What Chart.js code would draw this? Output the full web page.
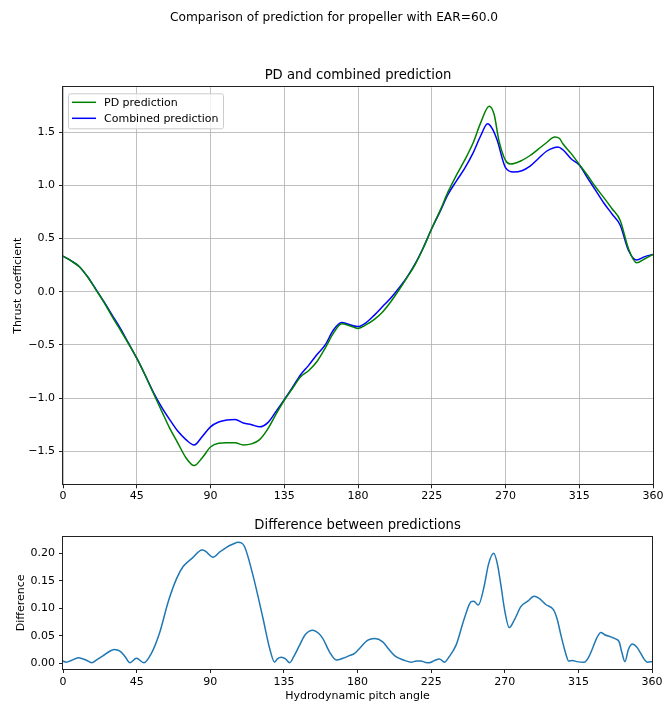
<!DOCTYPE html>
<html>
<head>
<meta charset="utf-8">
<script src="https://cdn.jsdelivr.net/npm/chart.js@4/dist/chart.umd.min.js"></script>
<style>
  html, body { margin: 0; padding: 0; background: #ffffff; }
  body { width: 665px; height: 704px; position: relative; overflow: hidden; }
  canvas { position: absolute; left: 0; }
  #thrust { top: 0; }
  #diff { top: 505px; }
</style>
</head>
<body>
<canvas id="thrust" width="665" height="505"></canvas>
<canvas id="diff" width="665" height="199"></canvas>
<script>
// Thrust coefficient predicted by the PD model, per hydrodynamic pitch angle (deg)
const pdAngles = [0,5,10,15,20,25,30,35,40,45,50,55,60,65,70,75,80,85,90,95,100,105,110,115,120,125,130,135,140,145,150,155,160,165,170,175,180,185,190,195,200,205,210,215,220,225,230,235,240,245,250,255,260,263,266,270,273,280,285,290,295,300,303,305,310,315,320,325,330,335,340,345,350,355,360];
const pdValues = [0.335,0.29,0.235,0.14,0.02,-0.10,-0.235,-0.36,-0.49,-0.625,-0.78,-0.95,-1.115,-1.28,-1.42,-1.56,-1.634,-1.56,-1.46,-1.425,-1.42,-1.42,-1.44,-1.43,-1.39,-1.29,-1.15,-1.02,-0.91,-0.80,-0.74,-0.656,-0.53,-0.39,-0.30,-0.32,-0.345,-0.31,-0.26,-0.19,-0.094,0.016,0.134,0.26,0.416,0.594,0.76,0.94,1.094,1.234,1.39,1.594,1.744,1.67,1.42,1.234,1.20,1.234,1.28,1.34,1.40,1.453,1.44,1.39,1.30,1.197,1.094,0.984,0.884,0.78,0.67,0.406,0.272,0.31,0.35];

// Thrust coefficient from the combined prediction
const combAngles = [0,5,10,15,20,25,30,35,40,45,50,55,60,65,70,75,80,85,90,95,100,105,110,115,120,125,130,135,140,145,150,155,160,165,170,175,180,185,190,195,200,205,210,215,220,225,230,235,240,245,250,255,259,262,265,270,275,280,285,290,295,300,302,305,310,315,320,325,330,335,340,345,350,355,360];
const combValues = [0.335,0.29,0.235,0.14,0.025,-0.094,-0.22,-0.344,-0.484,-0.625,-0.78,-0.94,-1.08,-1.20,-1.31,-1.39,-1.44,-1.36,-1.27,-1.225,-1.206,-1.20,-1.234,-1.25,-1.27,-1.23,-1.125,-1.015,-0.90,-0.78,-0.69,-0.59,-0.50,-0.36,-0.29,-0.31,-0.328,-0.29,-0.22,-0.14,-0.06,0.035,0.14,0.266,0.42,0.594,0.75,0.916,1.04,1.156,1.297,1.47,1.578,1.53,1.42,1.166,1.125,1.137,1.18,1.25,1.32,1.356,1.36,1.334,1.25,1.19,1.07,0.953,0.834,0.73,0.625,0.39,0.297,0.33,0.35];

// Absolute difference between the two predictions
const diffAngles = [0,2,5,9.4,14,17.5,21,24.6,28,31.3,34.8,38,40.9,44.9,49.4,54,59.2,64.3,69.4,73.4,78.5,85,87,91.7,96,99.9,104,107,109,111,116.1,122.2,126.3,129.3,131,133.4,136,138.5,141,144.6,148,152.7,156,158.8,163,167,171,175.1,178.2,181.2,186.3,190.4,195.4,199,202.6,208,212.7,216,218.8,221,223.9,227,230,233.1,236,240.2,245.3,249.4,251,253.8,257.5,260,263.2,265.5,267.6,270,272.7,276,279.8,284,287.9,291,295,299.8,302,304.3,307,309,311.4,314,318.5,321,323.6,326,328.7,331,334.8,338,339.9,341.5,343.4,345.5,348,350.5,353.1,355,357.2,360];
const diffValues = [0.004,0.002,0.005,0.010,0.006,0.001,0.007,0.014,0.021,0.025,0.022,0.012,0.001,0.009,0.001,0.018,0.057,0.112,0.154,0.176,0.19,0.206,0.204,0.193,0.203,0.211,0.217,0.22,0.219,0.212,0.16,0.082,0.027,0.002,0.008,0.011,0.008,0.001,0.012,0.033,0.052,0.060,0.055,0.045,0.02,0.006,0.009,0.014,0.018,0.027,0.042,0.045,0.039,0.026,0.014,0.006,0.002,0.004,0.004,0.002,0.001,0.005,0.008,0.002,0.012,0.033,0.082,0.112,0.113,0.106,0.142,0.18,0.20,0.18,0.142,0.095,0.065,0.08,0.103,0.113,0.122,0.118,0.107,0.097,0.08,0.051,0.02,0.004,0.005,0.003,0.002,0.01,0.027,0.045,0.056,0.052,0.048,0.044,0.039,0.02,0.003,0.025,0.035,0.03,0.018,0.008,0.002,0.003];

// Tick positions
const angleTicks = [0,45,90,135,180,225,270,315,360];
const thrustTicks = [-1.5,-1.0,-0.5,0.0,0.5,1.0,1.5];
const diffTicks = [0.00,0.05,0.10,0.15,0.20];

const FONT = "'DejaVu Sans', 'Liberation Sans', sans-serif";
Chart.defaults.font.family = FONT;
Chart.defaults.font.size = 11;
Chart.defaults.color = '#000000';
Chart.defaults.animation = false;

const minus = s => s.replace('-', '\u2212');
const toPoints = (xs, ys) => xs.map((x, i) => ({ x: x, y: ys[i] }));

// Full rectangular frame around the plotting area
const framePlugin = {
  id: 'frame',
  afterDraw(chart) {
    const a = chart.chartArea, ctx = chart.ctx;
    ctx.save();
    ctx.strokeStyle = '#222222';
    ctx.lineWidth = 1;
    const l = Math.round(a.left) - 0.5, t = Math.round(a.top) - 0.5;
    const r = Math.round(a.right) + 0.5, b = Math.round(a.bottom) + 0.5;
    ctx.strokeRect(l, t, r - l, b - t);
    ctx.restore();
  }
};

// Figure heading (centred on the page) and axes title (centred over the plotting area)
const headings = {
  id: 'headings',
  afterDraw(chart, args, opts) {
    const a = chart.chartArea, ctx = chart.ctx;
    ctx.save();
    ctx.fillStyle = '#000000';
    ctx.textAlign = 'center';
    ctx.textBaseline = 'middle';
    if (opts.figure) {
      ctx.font = '12.2px ' + FONT;
      ctx.fillText(opts.figure, 334, 18);
    }
    ctx.font = '13.2px ' + FONT;
    ctx.fillText(opts.axes, (a.left + a.right) / 2, a.top - opts.gap);
    ctx.restore();
  }
};

// Legend box in the upper-left corner of the plotting area
const insetLegend = {
  id: 'insetLegend',
  afterDraw(chart) {
    const a = chart.chartArea, ctx = chart.ctx;
    const x = a.left + 5, y = a.top + 6, w = 155, h = 35;
    ctx.save();
    ctx.beginPath();
    if (ctx.roundRect) ctx.roundRect(x + 0.5, y + 0.5, w, h, 2); else ctx.rect(x + 0.5, y + 0.5, w, h);
    ctx.fillStyle = 'rgba(255,255,255,0.8)';
    ctx.fill();
    ctx.strokeStyle = '#cccccc';
    ctx.lineWidth = 1;
    ctx.stroke();
    ctx.font = '11px ' + FONT;
    ctx.textBaseline = 'middle';
    ctx.textAlign = 'left';
    chart.data.datasets.forEach((ds, i) => {
      const ly = y + 9 + i * 16;
      ctx.beginPath();
      ctx.moveTo(x + 4, ly);
      ctx.lineTo(x + 28, ly);
      ctx.strokeStyle = ds.borderColor;
      ctx.lineWidth = 1.5;
      ctx.stroke();
      ctx.fillStyle = '#000000';
      ctx.fillText(ds.label, x + 36, ly + 0.5);
    });
    ctx.restore();
  }
};

const lineStyle = { pointRadius: 0, borderWidth: 1.5, cubicInterpolationMode: 'monotone', fill: false };
const tickGrid = { tickLength: 4, tickColor: '#222222', tickWidth: 1 };

new Chart(document.getElementById('thrust'), {
  type: 'line',
  data: {
    datasets: [
      Object.assign({ label: 'PD prediction', data: toPoints(pdAngles, pdValues), borderColor: '#008000' }, lineStyle),
      Object.assign({ label: 'Combined prediction', data: toPoints(combAngles, combValues), borderColor: '#0000ff' }, lineStyle)
    ]
  },
  options: {
    responsive: false,
    layout: { padding: { left: 0, right: 12, top: 87.3, bottom: 0 } },
    plugins: {
      legend: { display: false },
      tooltip: { enabled: false },
      headings: {
        figure: 'Comparison of prediction for propeller with EAR=60.0',
        axes: 'PD and combined prediction',
        gap: 11.5
      }
    },
    scales: {
      x: {
        type: 'linear',
        min: 0, max: 360,
        afterBuildTicks: s => { s.ticks = angleTicks.map(v => ({ value: v })); },
        afterFit: s => { s.height = 20.7; },
        ticks: { padding: 1, maxRotation: 0, autoSkip: false, callback: v => String(v) },
        grid: Object.assign({ color: '#b0b0b0', lineWidth: 0.8 }, tickGrid),
        border: { display: false }
      },
      y: {
        type: 'linear',
        min: -1.81, max: 1.921,
        afterBuildTicks: s => { s.ticks = thrustTicks.map(v => ({ value: v })); },
        afterFit: s => { s.width = 63; },
        ticks: { padding: 4, autoSkip: false, callback: v => minus(Number(v).toFixed(1)) },
        grid: Object.assign({ color: '#b0b0b0', lineWidth: 0.8 }, tickGrid),
        border: { display: false },
        title: { display: true, text: 'Thrust coefficient', font: { size: 11 }, padding: { top: 11.4, bottom: 0 } }
      }
    }
  },
  plugins: [framePlugin, headings, insetLegend]
});

new Chart(document.getElementById('diff'), {
  type: 'line',
  data: {
    datasets: [
      Object.assign({ label: 'Difference', data: toPoints(diffAngles, diffValues), borderColor: '#1f77b4' }, lineStyle)
    ]
  },
  options: {
    responsive: false,
    layout: { padding: { left: 0, right: 12, top: 31.7, bottom: 0 } },
    plugins: {
      legend: { display: false },
      tooltip: { enabled: false },
      headings: { axes: 'Difference between predictions', gap: 10.7 }
    },
    scales: {
      x: {
        type: 'linear',
        min: 0, max: 360,
        afterBuildTicks: s => { s.ticks = angleTicks.map(v => ({ value: v })); },
        afterFit: s => { s.height = 35; },
        ticks: { padding: 2.4, maxRotation: 0, autoSkip: false, callback: v => String(v) },
        grid: Object.assign({ drawOnChartArea: false }, tickGrid),
        border: { display: false },
        title: { display: true, text: 'Hydrodynamic pitch angle', font: { size: 11 }, padding: { top: 0, bottom: 1.4 } }
      },
      y: {
        type: 'linear',
        min: -0.0104, max: 0.2303,
        afterBuildTicks: s => { s.ticks = diffTicks.map(v => ({ value: v })); },
        afterFit: s => { s.width = 63; },
        ticks: { padding: 4, autoSkip: false, callback: v => Number(v).toFixed(2) },
        grid: Object.assign({ drawOnChartArea: false }, tickGrid),
        border: { display: false },
        title: { display: true, text: 'Difference', font: { size: 11 }, padding: { top: 14.4, bottom: 0 } }
      }
    }
  },
  plugins: [framePlugin, headings]
});
</script>
</body>
</html>
